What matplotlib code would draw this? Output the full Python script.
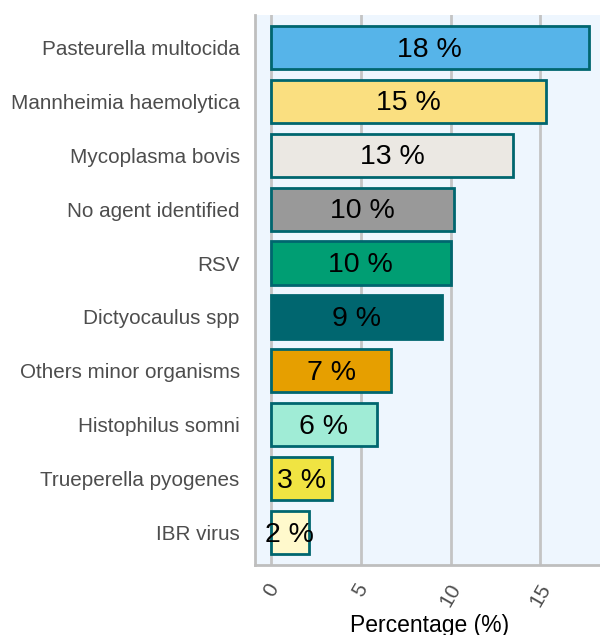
import numpy as np
import matplotlib
matplotlib.use("Agg")
import matplotlib.pyplot as plt

plt.rcParams['font.family'] = ['Liberation Sans', 'DejaVu Sans']

# data, top to bottom as in the chart
agents = ['Pasteurella multocida', 'Mannheimia haemolytica', 'Mycoplasma bovis',
          'No agent identified', 'RSV', 'Dictyocaulus spp', 'Others minor organisms',
          'Histophilus somni', 'Trueperella pyogenes', 'IBR virus']
pct = [17.7, 15.3, 13.5, 10.2, 10.0, 9.5, 6.7, 5.9, 3.4, 2.1]
labels = ['18 %', '15 %', '13 %', '10 %', '10 %', '9 %', '7 %', '6 %', '3 %', '2 %']
fills = ['#56B4E9', '#FADF80', '#EBE8E3', '#999999', '#009E73', '#00666F',
         '#E69F00', '#A0ECD6', '#F0E442', '#FFF9CC']
xticks = [0, 5, 10, 15]

fig = plt.figure(figsize=(6, 6.35), dpi=100)
ax = fig.add_axes([255/600, 70/635, 350/600, 550/635])
ax.set_facecolor('#EEF6FE')

ypos = np.arange(len(agents))
ax.barh(ypos, pct, height=0.8, color=fills, edgecolor='#00666F', linewidth=2, zorder=3)
for y, v, lab in zip(ypos, pct, labels):
    ax.text(v / 2, y + 0.04, lab, ha='center', va='center', fontsize=20.5,
            color='black', zorder=4)

ax.set_xlim(-0.885, 18.6)
ax.set_ylim(len(agents) - 0.4, -0.6)
ax.set_yticks(ypos)
ax.set_yticklabels(agents, fontsize=14.9, color='#4D4D4D')
ax.set_xticks(xticks)
ax.set_xticklabels([str(t) for t in xticks], fontsize=15, color='#4D4D4D',
                   rotation=60, ha='center', va='top')
ax.tick_params(axis='y', length=0, pad=11)
ax.tick_params(axis='x', length=0, pad=11)
ax.xaxis.grid(True, color='#C4C4C4', linewidth=2, zorder=0)
ax.set_axisbelow(True)

for s in ['top', 'right']:
    ax.spines[s].set_visible(False)
for s in ['left', 'bottom']:
    ax.spines[s].set_color('#BEBEBE')
    ax.spines[s].set_linewidth(2)

ax.set_xlabel('Percentage (%)', fontsize=16.5, color='black', labelpad=3)

fig.savefig('out.png', dpi=100)
